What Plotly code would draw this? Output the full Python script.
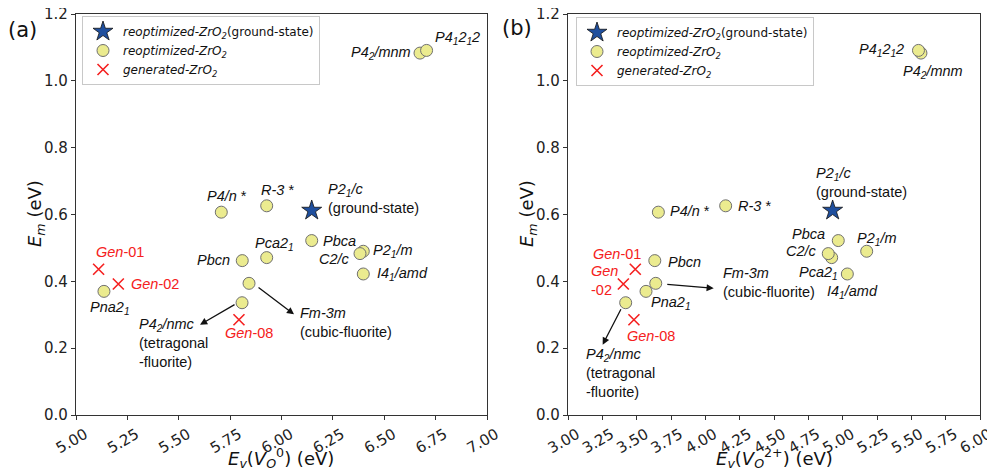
import plotly.graph_objects as go

# ---------------- data ----------------
reopt_names = ["P4/n", "R-3", "Pbca", "Pca21", "Pbcn", "P21/m", "C2/c", "I41/amd",
               "Fm-3m", "Pna21", "P42/nmc", "P42/mnm", "P41212"]
reopt_labels = ["<i>P4/n</i> *", "<i>R-3</i> *", "<i>Pbca</i>", "<i>Pca2<sub>1</sub></i>",
                "<i>Pbcn</i>", "<i>P2<sub>1</sub>/m</i>", "<i>C2/c</i>", "<i>I4<sub>1</sub>/amd</i>",
                "<i>Fm-3m</i><br>(cubic-fluorite)", "<i>Pna2<sub>1</sub></i>",
                "<i>P4<sub>2</sub>/nmc</i><br>(tetragonal<br>-fluorite)",
                "<i>P4<sub>2</sub>/mnm</i>", "<i>P4<sub>1</sub>2<sub>1</sub>2</i>"]
reopt_em = [0.607, 0.626, 0.522, 0.471, 0.462, 0.490, 0.483, 0.422,
            0.394, 0.370, 0.336, 1.083, 1.091]
reopt_ev_neutral = [5.707, 5.928, 6.147, 5.928, 5.809, 6.398, 6.382, 6.398,
                    5.842, 5.136, 5.808, 6.674, 6.706]
reopt_ev_charged = [3.658, 4.148, 4.968, 4.920, 3.632, 5.175, 4.895, 5.034,
                    3.639, 3.568, 3.420, 5.570, 5.552]

ground_names = ["P21/c"]
ground_labels = ["<i>P2<sub>1</sub>/c</i><br>(ground-state)"]
ground_em = [0.612]
ground_ev_neutral = [6.147]
ground_ev_charged = [4.927]

gen_names = ["Gen-01", "Gen-02", "Gen-08"]
gen_labels_a = ["<i>Gen</i>-01", "<i>Gen</i>-02", "<i>Gen</i>-08"]
gen_labels_b = ["<i>Gen</i>-01", "<i>Gen</i><br>-02", "<i>Gen</i>-08"]
gen_em = [0.436, 0.392, 0.285]
gen_ev_neutral = [5.110, 5.206, 5.793]
gen_ev_charged = [3.490, 3.403, 3.480]

xticks_a = [5.00, 5.25, 5.50, 5.75, 6.00, 6.25, 6.50, 6.75, 7.00]
xticks_b = [3.00, 3.25, 3.50, 3.75, 4.00, 4.25, 4.50, 4.75, 5.00, 5.25, 5.50, 5.75, 6.00]
yticks = [0.0, 0.2, 0.4, 0.6, 0.8, 1.0, 1.2]

# ---------------- label placement (pixel offsets: dx, dy(down), anchor) ----------------
place_a = {
    "P4/n": (6, -16, "center"), "R-3": (11, -16, "center"), "Pbca": (9, 0, "left"),
    "Pca21": (8, -14, "center"), "Pbcn": (-10, -1, "right"), "P21/m": (8, 0, "left"),
    "C2/c": (-8, 5, "right"), "I41/amd": (12, 0, "left"), "Fm-3m": (49, 39, "left"),
    "Pna21": (6, 17, "center"), "P42/nmc": (-105, 40, "left"), "P42/mnm": (-7, 0, "right"),
    "P41212": (6, -12, "left"), "P21/c": (14, -12, "left"),
    "Gen-01": (21, -17, "center"), "Gen-02": (11, 0, "left"), "Gen-08": (10, 13, "center"),
}
place_b = {
    "P4/n": (10, -1, "left"), "R-3": (10, 0, "left"), "Pbca": (-11, -7, "right"),
    "Pca21": (8, 15, "right"), "Pbcn": (11, 1, "left"), "P21/m": (10, -12, "center"),
    "C2/c": (-9, -3, "right"), "I41/amd": (5, 18, "center"), "Fm-3m": (65, -1, "left"),
    "Pna21": (3, 12, "left"), "P42/nmc": (-42, 70, "left"), "P42/mnm": (-20, 19, "left"),
    "P41212": (-12, 0, "right"), "P21/c": (-19, -28, "left"),
    "Gen-01": (8, -15, "right"), "Gen-02": (-34, -4, "left"), "Gen-08": (17, 16, "center"),
}
# arrows: tail (dx, dy), head (dx, dy) relative to point, pixels
arrows_a = {"Fm-3m": (8, 3, 45, 31), "P42/nmc": (-6, 1, -42, 22)}
arrows_b = {"Fm-3m": (10, 1, 58, 5), "P42/nmc": (-4, 5, -23, 42)}

# ---------------- style ----------------
W, H = 995, 473
OFF = 8  # page body margin in the browser


def xp(px):
    return (px - OFF) / W


def yp(py):
    return 1 - (py - OFF) / H


TICK_FONT = dict(family="DejaVu Sans", size=15, color="#222")
LAB_FONT = "Liberation Sans"
LAB_SIZE = 14.5
STAR_FILL = "#1f4f9e"
CIRC_FILL = "#ebeb8f"
CIRC_EDGE = "#707070"
RED = "#f52020"

fig = go.Figure()


def add_panel(xa, ya, ev_reopt, ev_ground, ev_gen, legend):
    fig.add_trace(go.Scatter(
        x=ev_ground, y=ground_em, mode="markers", xaxis=xa, yaxis=ya,
        name="<i>reoptimized-ZrO<sub>2</sub></i>(ground-state)",
        marker=dict(symbol="star", size=15, color=STAR_FILL, line=dict(color="#111", width=0.8)),
        legend=legend, showlegend=True))
    fig.add_trace(go.Scatter(
        x=ev_reopt, y=reopt_em, mode="markers", xaxis=xa, yaxis=ya,
        name="<i>reoptimized-ZrO<sub>2</sub></i>",
        marker=dict(symbol="circle", size=12, color=CIRC_FILL, line=dict(color=CIRC_EDGE, width=1)),
        legend=legend, showlegend=True))
    fig.add_trace(go.Scatter(
        x=ev_gen, y=gen_em, mode="markers", xaxis=xa, yaxis=ya,
        name="<i>generated-ZrO<sub>2</sub></i>",
        marker=dict(symbol="x-thin", size=11, color=RED, line=dict(color=RED, width=1.6)),
        legend=legend, showlegend=True))


add_panel("x", "y", reopt_ev_neutral, ground_ev_neutral, gen_ev_neutral, "legend")
add_panel("x2", "y2", reopt_ev_charged, ground_ev_charged, gen_ev_charged, "legend2")

annotations = []


def add_labels(xref, yref, evs, ems, names, labels, place, color):
    for ev, em, nm, lab in zip(evs, ems, names, labels):
        dx, dy, anc = place[nm]
        annotations.append(dict(
            x=ev, y=em, xref=xref, yref=yref, text=lab, showarrow=False,
            xshift=dx, yshift=-dy, xanchor=anc, yanchor="middle", align=anc,
            font=dict(family=LAB_FONT, size=LAB_SIZE, color=color)))


def add_arrows(xref, yref, evs, ems, names, arrows):
    for ev, em, nm in zip(evs, ems, names):
        if nm not in arrows:
            continue
        tdx, tdy, hdx, hdy = arrows[nm]
        annotations.append(dict(
            x=ev, y=em, xref=xref, yref=yref, text="", showarrow=True,
            xshift=hdx, yshift=-hdy, ax=tdx - hdx, ay=tdy - hdy,
            arrowhead=2, arrowsize=1.1, arrowwidth=1.3, arrowcolor="#111",
            standoff=0, startstandoff=0))


for xr, yr, ev_r, ev_g, ev_x, place, arrows, gl in [
        ("x", "y", reopt_ev_neutral, ground_ev_neutral, gen_ev_neutral, place_a, arrows_a, gen_labels_a),
        ("x2", "y2", reopt_ev_charged, ground_ev_charged, gen_ev_charged, place_b, arrows_b, gen_labels_b)]:
    add_labels(xr, yr, ev_r, reopt_em, reopt_names, reopt_labels, place, "#111")
    add_labels(xr, yr, ev_g, ground_em, ground_names, ground_labels, place, "#111")
    add_labels(xr, yr, ev_x, gen_em, gen_names, gl, place, RED)
    add_arrows(xr, yr, ev_r, reopt_em, reopt_names, arrows)

# panel letters and axis titles
for txt, px, py in [("(a)", 22, 30), ("(b)", 517, 28)]:
    annotations.append(dict(x=xp(px), y=yp(py), xref="paper", yref="paper", text=txt,
                            showarrow=False, xanchor="center", yanchor="middle",
                            font=dict(family="DejaVu Sans", size=21, color="#111")))
for px in [36, 528]:
    annotations.append(dict(x=xp(px), y=yp(214), xref="paper", yref="paper",
                            text="<i>E<sub>m</sub></i> (eV)", textangle=-90, showarrow=False,
                            xanchor="center", yanchor="middle",
                            font=dict(family="DejaVu Sans", size=18, color="#111")))
annotations.append(dict(x=xp(281), y=yp(458), xref="paper", yref="paper",
                        text="<i>E<sub>v</sub></i>(<i>V</i><sub><i>O</i></sub><sup>0</sup>) (eV)",
                        showarrow=False, xanchor="center", yanchor="middle",
                        font=dict(family="DejaVu Sans", size=18, color="#111")))
annotations.append(dict(x=xp(774), y=yp(458), xref="paper", yref="paper",
                        text="<i>E<sub>v</sub></i>(<i>V</i><sub><i>O</i></sub><sup>2+</sup>) (eV)",
                        showarrow=False, xanchor="center", yanchor="middle",
                        font=dict(family="DejaVu Sans", size=18, color="#111")))

axis_common = dict(showline=True, linecolor="#333", linewidth=1.2, mirror=True,
                   ticks="outside", ticklen=4, tickwidth=1, tickcolor="#333",
                   showgrid=False, zeroline=False, tickfont=TICK_FONT, automargin=False,
                   ticklabeloverflow="allow")
xaxis_extra = dict(tickangle=-30, ticklabelshift=9)

legend_common = dict(xanchor="left", yanchor="top", bgcolor="white", bordercolor="#c8c8c8",
                     borderwidth=1, font=dict(family="DejaVu Sans", size=12, color="#111"),
                     tracegroupgap=0, itemsizing="trace")

fig.update_layout(
    width=W, height=H, margin=dict(l=0, r=0, t=0, b=0, autoexpand=False),
    paper_bgcolor="white", plot_bgcolor="white",
    xaxis=dict(domain=[xp(76), xp(487)], range=[5, 7], tickvals=xticks_a,
               ticktext=[f"{v:.2f}" for v in xticks_a], anchor="y", **xaxis_extra, **axis_common),
    yaxis=dict(domain=[yp(415), yp(14)], range=[0, 1.2], tickvals=yticks,
               ticktext=[f"{v:.1f}" for v in yticks], anchor="x", **axis_common),
    xaxis2=dict(domain=[xp(568), xp(980)], range=[3, 6], tickvals=xticks_b,
                ticktext=[f"{v:.2f}" for v in xticks_b], anchor="y2", **xaxis_extra, **axis_common),
    yaxis2=dict(domain=[yp(415), yp(14)], range=[0, 1.2], tickvals=yticks,
                ticktext=[f"{v:.1f}" for v in yticks], anchor="x2", **axis_common),
    legend=dict(x=xp(82), y=yp(16), **legend_common),
    legend2=dict(x=xp(576), y=yp(17), **legend_common),
    annotations=annotations,
)

fig.write_html("out.html")
